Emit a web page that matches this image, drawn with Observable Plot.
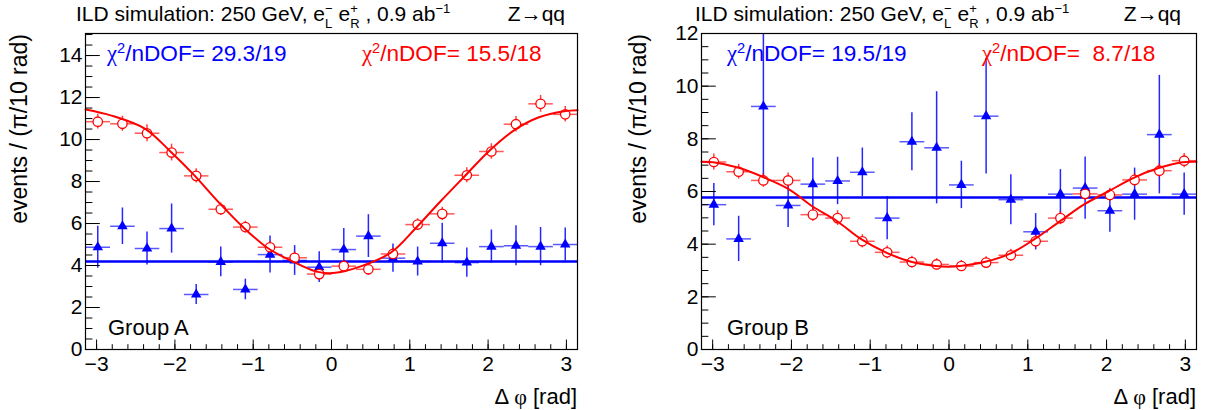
<!DOCTYPE html>
<html>
<head>
<meta charset="utf-8">
<script src="https://cdn.jsdelivr.net/npm/d3@7"></script>
<script src="https://cdn.jsdelivr.net/npm/@observablehq/plot@0.6"></script>
<style>
  body { margin: 0; background: #fff; }
  #wrap { display: flex; width: 1205px; height: 410px; overflow: hidden; }
  #wrap svg { display: block; background: #fff; }
</style>
</head>
<body>
<div id="wrap"></div>
<script>
// ---------------- data ----------------
const binCenters = [-2.985, -2.670, -2.356, -2.042, -1.728, -1.414, -1.100, -0.785, -0.471, -0.157,
                     0.157,  0.471,  0.785,  1.100,  1.414,  1.728,  2.042,  2.356,  2.670,  2.985];
const binHalfWidth = 0.157;

const xTickValues = [-3, -2, -1, 0, 1, 2, 3];
const yTickValuesA = [0, 2, 4, 6, 8, 10, 12, 14];
const yTickValuesB = [0, 2, 4, 6, 8, 10, 12];

// Group A
const groupARed     = [10.85, 10.75, 10.3, 9.38, 8.27, 6.68, 5.83, 4.87, 4.37, 3.59, 3.97, 3.82, 4.55, 5.95, 6.46, 8.3, 9.43, 10.73, 11.7, 11.2];
const groupARedErr  = [0.35, 0.36, 0.4, 0.4, 0.34, 0.3, 0.28, 0.29, 0.28, 0.28, 0.28, 0.28, 0.28, 0.28, 0.32, 0.36, 0.37, 0.37, 0.4, 0.37];
const groupABlue    = [4.87, 5.87, 4.81, 5.76, 2.62, 4.17, 2.86, 4.52, 4.24, 3.92, 4.76, 5.4, 4.35, 4.19, 5.06, 4.14, 4.9, 4.94, 4.9, 5.0];
const groupABlueErr = [1.0, 0.87, 0.79, 1.17, 0.48, 0.71, 0.49, 0.88, 0.71, 0.73, 1.0, 1.02, 0.67, 0.69, 0.95, 0.7, 0.79, 0.95, 0.91, 0.79];
const groupABlueFit = 4.19;
const groupAFitX = [-3.1416, -2.81, -2.38, -2.07, -1.76, -1.44, -1.13, -0.81, -0.5, -0.19, 0.05, 0.39, 0.76, 1.08, 1.39, 1.71, 2.02, 2.34, 2.65, 2.97, 3.1416];
const groupAFitY = [11.43, 11.14, 10.51, 9.48, 8.33, 7.01, 5.83, 4.82, 4.2, 3.71, 3.65, 3.98, 4.62, 5.8, 7.05, 8.29, 9.48, 10.46, 11.06, 11.35, 11.4];
const groupAChiBlue = "29.3/19";
const groupAChiRed  = "15.5/18";

// Group B
const groupBRed     = [7.12, 6.75, 6.42, 6.42, 5.12, 4.99, 4.11, 3.69, 3.32, 3.23, 3.17, 3.30, 3.58, 4.11, 4.99, 5.91, 5.87, 6.44, 6.79, 7.17];
const groupBRedErr  = [0.3, 0.28, 0.26, 0.28, 0.26, 0.28, 0.25, 0.24, 0.22, 0.22, 0.21, 0.22, 0.23, 0.25, 0.25, 0.25, 0.25, 0.25, 0.27, 0.27];
const groupBBlue    = [5.5, 4.2, 9.23, 5.47, 6.28, 6.4, 6.73, 4.99, 7.89, 7.66, 6.25, 8.86, 5.69, 4.47, 5.9, 6.13, 5.27, 5.9, 8.16, 5.9];
const groupBBlueErr = [0.8, 0.86, 2.83, 0.84, 0.99, 0.9, 0.92, 0.82, 1.1, 2.13, 0.9, 2.2, 0.95, 0.69, 0.93, 1.18, 0.82, 0.99, 2.25, 0.8];
const groupBBlueFit = 5.77;
const groupBFitX = [-3.1416, -2.99, -2.67, -2.36, -2.04, -1.73, -1.42, -1.11, -0.79, -0.48, -0.17, 0, 0.14, 0.46, 0.77, 1.08, 1.39, 1.71, 2.02, 2.33, 2.65, 2.96, 3.1416];
const groupBFitY = [7.13, 7.11, 6.9, 6.55, 6.1, 5.43, 4.87, 4.18, 3.67, 3.33, 3.17, 3.14, 3.17, 3.33, 3.63, 4.18, 4.83, 5.5, 6.0, 6.5, 6.88, 7.11, 7.13];
const groupBChiBlue = "19.5/19";
const groupBChiRed  = " 8.7/18";

// ---------------- rendering ----------------
const FONT = '"Liberation Sans", Arial, Helvetica, sans-serif';
const SERIF = '"Liberation Serif", "DejaVu Serif", serif';
const H = 410, MT = 33, MB = 61;

function richText(svg, x, y, pieces, {size = 21, fill = "black"} = {}) {
  const g = d3.select(svg).append("g").attr("fill", fill).attr("text-anchor", "start");
  let cx = x, prevStart = x;
  for (const p of pieces) {
    const fs = size * (p.scale || 1);
    const start = p.stack ? prevStart : cx;
    const t = g.append("text")
      .attr("x", start).attr("y", y + (p.dy || 0))
      .attr("text-anchor", "start")
      .attr("font-family", p.serif ? SERIF : FONT)
      .attr("font-size", fs)
      .style("white-space", "pre")
      .text(p.t);
    const w = t.node().getComputedTextLength();
    if (!p.stack) prevStart = start;
    cx = Math.max(cx, start + w);
  }
  return g;
}

function panel(o) {
  const plotW = o.width - o.marginLeft - o.marginRight;
  const plotH = H - MT - MB;
  const rows = binCenters.map((x, i) => ({x, red: o.red[i], rErr: o.redErr[i], blue: o.blue[i], bErr: o.blueErr[i]}));
  const fit = o.fitX.map((x, i) => ({x, y: o.fitY[i]}));
  const xMinor = d3.range(-3, 3.0001, 0.2);
  const yMinor = d3.range(0, o.yMax + 0.001, 0.5);

  const svg = Plot.plot({
    width: o.width, height: H,
    marginTop: MT, marginBottom: MB, marginLeft: o.marginLeft, marginRight: o.marginRight,
    style: {fontFamily: FONT, color: "black", background: "white", overflow: "visible"},
    x: {domain: [-Math.PI, Math.PI]},
    y: {domain: [0, o.yMax]},
    marks: [
      Plot.ruleY([o.blueFit], {stroke: "#0000ff", strokeWidth: 2.6}),
      Plot.link(rows, {x1: d => d.x - binHalfWidth, x2: d => d.x + binHalfWidth, y1: "blue", y2: "blue",
        stroke: "#0000ff", strokeWidth: 1.5, strokeOpacity: 0.65}),
      Plot.ruleX(rows, {x: "x", y1: d => d.blue - d.bErr, y2: d => Math.min(o.yMax, d.blue + d.bErr),
        stroke: "#0000ff", strokeWidth: 1.5, strokeOpacity: 0.85}),
      Plot.link(rows, {x1: d => d.x - binHalfWidth, x2: d => d.x + binHalfWidth, y1: "red", y2: "red",
        stroke: "#ff0000", strokeWidth: 1.5, strokeOpacity: 0.65}),
      Plot.ruleX(rows, {x: "x", y1: d => d.red - d.rErr, y2: d => d.red + d.rErr,
        stroke: "#ff0000", strokeWidth: 1.5, strokeOpacity: 0.75}),
      Plot.dot(rows, {x: "x", y: "blue", symbol: "triangle", fill: "#0000ff", r: 3.9}),
      Plot.dot(rows, {x: "x", y: "red", symbol: "circle", stroke: "#ff0000", fill: "white", r: 4.7, strokeWidth: 1.3}),
      Plot.line(fit, {x: "x", y: "y", curve: "catmull-rom", stroke: "#ff0000", strokeWidth: 2}),
      Plot.frame({stroke: "black", strokeWidth: 1.2}),
      Plot.ruleX(xTickValues, {x: d => d, insetTop: plotH - 9.5, stroke: "black"}),
      Plot.ruleX(xMinor, {x: d => d, insetTop: plotH - 4.8, stroke: "black"}),
      Plot.ruleY(o.yTicks, {y: d => d, insetRight: plotW - 14.8, stroke: "black"}),
      Plot.ruleY(yMinor, {y: d => d, insetRight: plotW - 7.4, stroke: "black"}),
      Plot.axisX(xTickValues, {tickSize: 0, tickPadding: 7, fontSize: 21, label: null,
        tickFormat: d => d < 0 ? "\u2212" + Math.abs(d) : String(d)}),
      Plot.axisY(o.yTicks, {tickSize: 0, tickPadding: 3, fontSize: 21, label: null})
    ]
  });
  document.getElementById("wrap").appendChild(svg);
  const s = d3.select(svg);

  // y-axis title (rotated)
  s.append("text")
    .attr("transform", `translate(${o.yTitleX},${MT + 1}) rotate(-90)`)
    .attr("text-anchor", "end")
    .attr("font-family", FONT).attr("font-size", 23).attr("fill", "black")
    .text("events / (\u03c0/10 rad)");

  // x-axis title
  const xt = s.append("text")
    .attr("x", o.width - o.marginRight).attr("y", 404)
    .attr("text-anchor", "end")
    .attr("font-family", FONT).attr("font-size", 22).attr("fill", "black")
    .style("white-space", "pre");
  xt.append("tspan").text("\u0394 ");
  xt.append("tspan").attr("font-family", SERIF).text("\u03c6");
  xt.append("tspan").text(" [rad]");

  // header
  richText(svg, o.titleX, 21, [
    {t: "ILD simulation: 250 GeV, e"},
    {t: "\u2212", scale: 0.62, dy: -8},
    {t: "L", scale: 0.62, dy: 7, stack: true},
    {t: " e"},
    {t: "+", scale: 0.62, dy: -8},
    {t: "R", scale: 0.62, dy: 7, stack: true},
    {t: " , 0.9 ab"},
    {t: "\u22121", scale: 0.62, dy: -8}
  ]);
  s.append("text")
    .attr("x", o.zX).attr("y", 21).attr("text-anchor", "end")
    .attr("font-family", FONT).attr("font-size", 21).attr("fill", "black")
    .text("Z\u2192qq");

  // chi2 labels
  const chiPieces = t => [
    {t: "\u03c7", serif: true},
    {t: "2", scale: 0.65, dy: -8},
    {t: "/nDOF= " + t}
  ];
  richText(svg, o.chiBlueX, 61, chiPieces(o.chiBlue), {size: 22.6, fill: "#0000ff"});
  richText(svg, o.chiRedX, 61, chiPieces(o.chiRed), {size: 22.6, fill: "#ff0000"});

  // group label
  s.append("text")
    .attr("x", o.groupX).attr("y", 335)
    .attr("text-anchor", "start")
    .attr("font-family", FONT).attr("font-size", 22).attr("fill", "black")
    .text(o.group);

  return svg;
}

panel({
  width: 602, marginLeft: 85, marginRight: 25, yMax: 15.05, yTicks: yTickValuesA,
  red: groupARed, redErr: groupARedErr, blue: groupABlue, blueErr: groupABlueErr,
  blueFit: groupABlueFit, fitX: groupAFitX, fitY: groupAFitY,
  chiBlue: groupAChiBlue, chiRed: groupAChiRed, group: "Group A",
  yTitleX: 27, titleX: 76, zX: 565, chiBlueX: 107, chiRedX: 362, groupX: 108
});
panel({
  width: 603, marginLeft: 99, marginRight: 9, yMax: 12, yTicks: yTickValuesB,
  red: groupBRed, redErr: groupBRedErr, blue: groupBBlue, blueErr: groupBBlueErr,
  blueFit: groupBBlueFit, fitX: groupBFitX, fitY: groupBFitY,
  chiBlue: groupBChiBlue, chiRed: groupBChiRed, group: "Group B",
  yTitleX: 44, titleX: 93, zX: 579, chiBlueX: 125, chiRedX: 380, groupX: 125
});
</script>
</body>
</html>
